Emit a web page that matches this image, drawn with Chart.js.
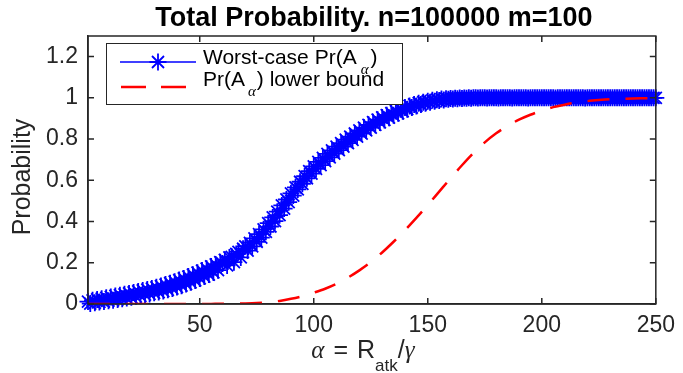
<!DOCTYPE html>
<html>
<head>
<meta charset="utf-8">
<script src="https://cdn.jsdelivr.net/npm/chart.js@4.4.0/dist/chart.umd.min.js"></script>
<style>
  body { margin: 0; background: #fff; }
  #wrap { width: 683px; height: 373px; }
</style>
</head>
<body>
<div id="wrap"><canvas id="chart" width="683" height="373"></canvas></div>
<script>
// worst-case Pr(A_alpha), one sample per alpha = 1..250
const worstCase = [
  0.012, 0.002, 0.018, 0.006, 0.022, 0.010, 0.026, 0.012, 0.030, 0.016,
  0.034, 0.018, 0.039, 0.022, 0.043, 0.026, 0.047, 0.029, 0.051, 0.033,
  0.056, 0.036, 0.061, 0.040, 0.066, 0.045, 0.070, 0.049, 0.075, 0.054,
  0.081, 0.058, 0.087, 0.063, 0.094, 0.069, 0.101, 0.075, 0.108, 0.082,
  0.116, 0.089, 0.124, 0.097, 0.133, 0.105, 0.142, 0.114, 0.152, 0.124,
  0.162, 0.133, 0.171, 0.143, 0.182, 0.153, 0.192, 0.164, 0.203, 0.196,
  0.214, 0.187, 0.226, 0.229, 0.203, 0.243, 0.253, 0.226, 0.268, 0.280,
  0.259, 0.297, 0.280, 0.318, 0.302, 0.339, 0.322, 0.362, 0.350, 0.392,
  0.376, 0.420, 0.402, 0.448, 0.431, 0.478, 0.463, 0.507, 0.494, 0.537,
  0.526, 0.566, 0.556, 0.593, 0.583, 0.620, 0.610, 0.645, 0.633, 0.667,
  0.655, 0.689, 0.674, 0.709, 0.693, 0.728, 0.711, 0.745, 0.729, 0.763,
  0.746, 0.780, 0.763, 0.797, 0.780, 0.812, 0.796, 0.827, 0.812, 0.842,
  0.827, 0.856, 0.842, 0.869, 0.856, 0.882, 0.869, 0.894, 0.881, 0.905,
  0.893, 0.916, 0.904, 0.926, 0.915, 0.936, 0.925, 0.945, 0.935, 0.953,
  0.945, 0.961, 0.953, 0.968, 0.961, 0.974, 0.968, 0.979, 0.974, 0.984,
  0.979, 0.988, 0.983, 0.991, 0.987, 0.994, 0.990, 0.996, 0.993, 0.997,
  0.995, 0.998, 0.996, 0.999, 0.997, 0.999, 0.998, 1.000, 0.998, 1.000,
  1.000, 0.999, 1.000, 1.000, 1.000, 0.999, 1.000, 1.000, 1.000, 1.000,
  0.999, 1.000, 1.000, 1.000, 1.000, 1.000, 0.999, 1.000, 1.000, 1.000,
  1.000, 1.000, 1.000, 0.999, 1.000, 1.000, 1.000, 1.000, 1.000, 1.000,
  1.000, 1.000, 1.000, 1.000, 1.000, 0.999, 1.000, 1.000, 1.000, 1.000,
  1.000, 1.000, 1.000, 1.000, 1.000, 1.000, 1.000, 1.000, 0.999, 1.000,
  1.000, 1.000, 1.000, 1.000, 1.000, 1.000, 1.000, 1.000, 1.000, 1.000,
  1.000, 1.000, 1.000, 1.000, 1.000, 1.000, 1.000, 1.000, 1.000, 1.000,
  1.000, 1.000, 1.000, 1.000, 1.000, 1.000, 1.000, 1.000, 1.000, 1.000
];

// lower bound on Pr(A_alpha)
const lowerBoundAlpha = [
  1, 5, 10, 15, 20, 25, 30, 35, 40, 45, 50, 55, 60, 65, 70, 75, 80, 85, 90, 95,
  100, 105, 110, 115, 120, 125, 130, 135, 140, 145, 150, 155, 160, 165, 170,
  175, 180, 185, 190, 195, 200, 205, 210, 215, 220, 225, 230, 235, 240, 245, 250
];
const lowerBound = [
  0, 0, 0, 0, 0, 0, 0, 0, 0, 0, 0, 0.0005, 0.001, 0.002, 0.003, 0.005, 0.009, 0.015, 0.025, 0.038,
  0.055, 0.074, 0.098, 0.128, 0.163, 0.203, 0.25, 0.302, 0.358, 0.418, 0.48, 0.545, 0.61, 0.673, 0.732,
  0.784, 0.828, 0.864, 0.894, 0.918, 0.938, 0.955, 0.967, 0.977, 0.984, 0.989, 0.993, 0.995, 0.997, 0.998, 0.999
];

const xTicks = [50, 100, 150, 200, 250];
const yTicks = [0, 0.2, 0.4, 0.6, 0.8, 1, 1.2];

const axisColor = '#262626';
const sans = '"Liberation Sans", Arial, Helvetica, sans-serif';
const serif = '"Liberation Serif", "Times New Roman", serif';

// MATLAB style box with inward ticks on all four sides
const frame = {
  id: 'frame',
  afterDatasetsDraw(chart) {
    const { ctx, chartArea: a, scales: { x, y } } = chart;
    ctx.save();
    ctx.strokeStyle = axisColor;
    ctx.lineWidth = 1.5;
    ctx.strokeRect(a.left, a.top, a.right - a.left, a.bottom - a.top);
    ctx.beginPath();
    x.ticks.forEach(t => {
      const px = x.getPixelForValue(t.value);
      ctx.moveTo(px, a.bottom); ctx.lineTo(px, a.bottom - 6);
      ctx.moveTo(px, a.top); ctx.lineTo(px, a.top + 6);
    });
    y.ticks.forEach(t => {
      const py = y.getPixelForValue(t.value);
      ctx.moveTo(a.left, py); ctx.lineTo(a.left + 6, py);
      ctx.moveTo(a.right, py); ctx.lineTo(a.right - 6, py);
    });
    ctx.stroke();
    ctx.restore();
  }
};

// draws a run of text pieces, some of them subscripts
function drawPieces(ctx, pieces, x, baseline) {
  pieces.forEach(p => {
    ctx.font = p.font;
    x += p.gap || 0;
    ctx.fillText(p.t, x, baseline + (p.dy || 0));
    x += ctx.measureText(p.t).width;
  });
}
function piecesWidth(ctx, pieces) {
  return pieces.reduce((w, p) => {
    ctx.font = p.font;
    return w + (p.gap || 0) + ctx.measureText(p.t).width;
  }, 0);
}

const annotations = {
  id: 'annotations',
  afterDraw(chart) {
    const { ctx, chartArea: a } = chart;
    const midX = (a.left + a.right) / 2;
    ctx.save();
    ctx.textBaseline = 'alphabetic';

    // title, centred over the axes
    ctx.fillStyle = '#000';
    ctx.textAlign = 'center';
    ctx.font = 'bold 27px ' + sans;
    ctx.fillText('Total Probability. n=100000 m=100', midX + 2, 26);

    // y-axis label
    ctx.save();
    ctx.translate(30, 177);
    ctx.rotate(-Math.PI / 2);
    ctx.fillStyle = axisColor;
    ctx.font = '25px ' + sans;
    ctx.fillText('Probability', 0, 0);
    ctx.restore();

    ctx.textAlign = 'left';

    // legend box
    const lx = 106, ly = 43, lw = 296, lh = 61;
    ctx.fillStyle = '#fff';
    ctx.fillRect(lx, ly, lw, lh);
    ctx.strokeStyle = axisColor;
    ctx.lineWidth = 1;
    ctx.strokeRect(lx + 0.5, ly + 0.5, lw, lh);

    // row 1: blue line with asterisk
    ctx.strokeStyle = '#0000ff';
    ctx.lineWidth = 1.5;
    ctx.beginPath();
    ctx.moveTo(120, 62); ctx.lineTo(196, 62);
    ctx.stroke();
    ctx.lineWidth = 1.8;
    Chart.helpers.drawPoint(ctx, { pointStyle: 'star', radius: 8.5, borderWidth: 1.8 }, 158, 62);

    // row 2: red dashed line
    ctx.strokeStyle = '#ff0000';
    ctx.lineWidth = 2.5;
    ctx.setLineDash([25, 15]);
    ctx.beginPath();
    ctx.moveTo(121, 87); ctx.lineTo(186, 87);
    ctx.stroke();
    ctx.setLineDash([]);

    ctx.fillStyle = '#000';
    const f21 = '21px ' + sans;
    const sub = 'italic 15px ' + serif;
    drawPieces(ctx, [
      { t: 'Worst-case Pr(A', font: f21 },
      { t: 'α', font: sub, gap: 4, dy: 10 },
      { t: ')', font: f21, gap: 2 }
    ], 203, 64);
    drawPieces(ctx, [
      { t: 'Pr(A', font: f21 },
      { t: 'α', font: sub, gap: 3, dy: 10 },
      { t: ') lower bound', font: f21, gap: 1 }
    ], 203, 86);

    // x-axis label: alpha = R_atk / gamma
    ctx.fillStyle = axisColor;
    const xl = [
      { t: 'α', font: 'italic 25px ' + serif },
      { t: ' = ', font: '25px ' + sans, gap: 2 },
      { t: 'R', font: '25px ' + sans, gap: 2 },
      { t: 'atk', font: '17px ' + sans, dy: 13 },
      { t: '/', font: '25px ' + sans },
      { t: 'γ', font: 'italic 25px ' + serif }
    ];
    const w = piecesWidth(ctx, xl);
    drawPieces(ctx, xl, midX - 9 - w / 2, 358);
    ctx.restore();
  }
};

new Chart(document.getElementById('chart'), {
  type: 'line',
  data: {
    datasets: [
      {
        label: 'Worst-case Pr(A_α)',
        data: worstCase.map((v, i) => ({ x: i + 1, y: v })),
        borderColor: '#0000ff',
        backgroundColor: '#0000ff',
        borderWidth: 1.5,
        pointStyle: 'star',
        pointRadius: 8.5,
        pointBorderWidth: 1.8,
        pointBorderColor: '#0000ff',
        clip: false,
        order: 1
      },
      {
        label: 'Pr(A_α) lower bound',
        data: lowerBoundAlpha.map((v, i) => ({ x: v, y: lowerBound[i] })),
        borderColor: '#ff0000',
        borderWidth: 2.5,
        borderDash: [22, 16],
        pointRadius: 0,
        cubicInterpolationMode: 'monotone',
        order: 0
      }
    ]
  },
  options: {
    responsive: false,
    animation: false,
    layout: { padding: { left: 0, right: 20, top: 36, bottom: 0 } },
    plugins: {
      legend: { display: false },
      tooltip: { enabled: false },
      title: { display: false }
    },
    scales: {
      x: {
        type: 'linear',
        min: 1,
        max: 250,
        afterBuildTicks: s => { s.ticks = xTicks.map(v => ({ value: v })); },
        afterFit: s => { s.height = 69; },
        grid: { display: false, drawTicks: false },
        border: { display: true, color: axisColor, width: 1.5 },
        ticks: { color: axisColor, font: { family: sans, size: 23 }, padding: 8, maxRotation: 0 }
      },
      y: {
        min: 0,
        max: 1.3,
        afterBuildTicks: s => { s.ticks = yTicks.map(v => ({ value: v })); },
        afterFit: s => { s.width = 88; },
        grid: { display: false, drawTicks: false },
        border: { display: true, color: axisColor, width: 1.5 },
        ticks: {
          color: axisColor,
          font: { family: sans, size: 23 },
          padding: 10,
          callback: v => String(v)
        }
      }
    }
  },
  plugins: [frame, annotations]
});
</script>
</body>
</html>
